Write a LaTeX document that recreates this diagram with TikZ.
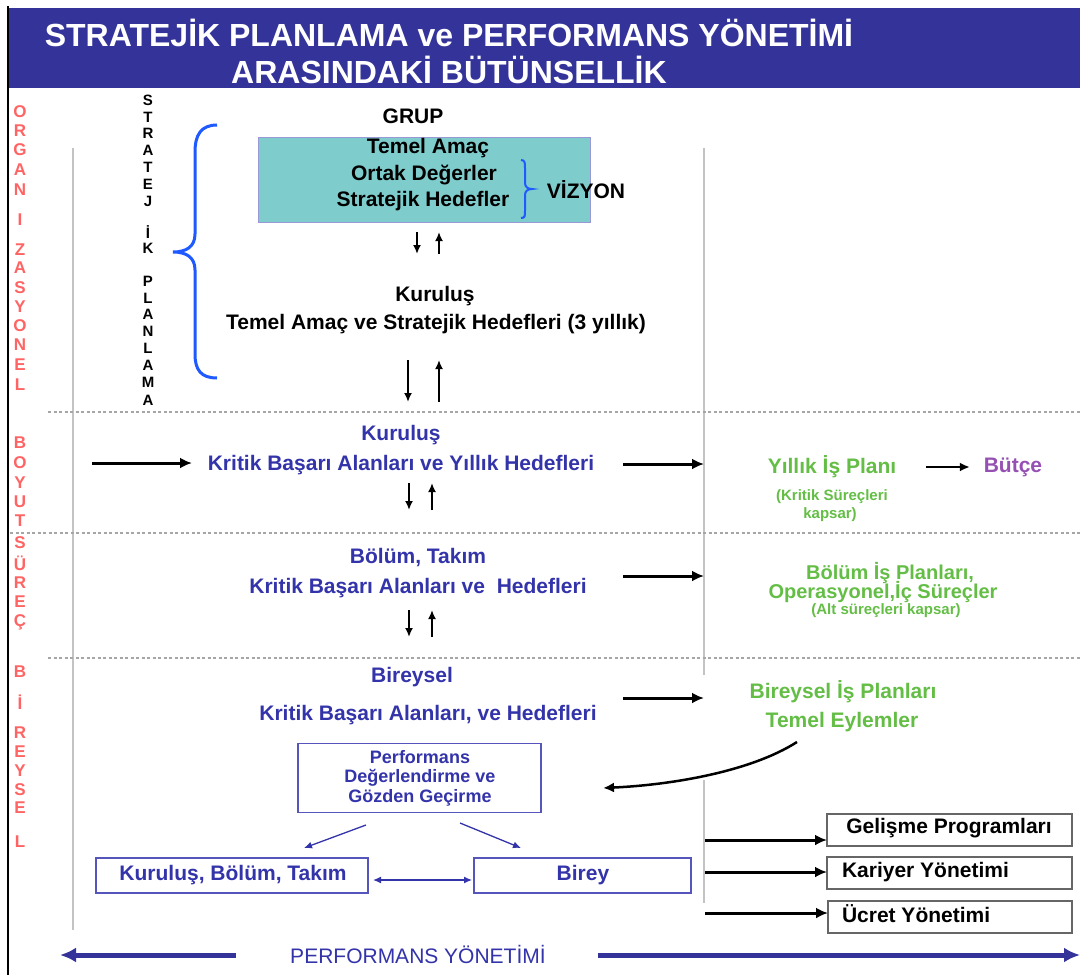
\documentclass[tikz,border=0pt]{standalone}
\usepackage{fontspec}
\setmainfont{Liberation Sans}
\usetikzlibrary{arrows.meta}
\definecolor{titleblue}{RGB}{51,51,153}
\definecolor{txtblue}{RGB}{51,51,170}
\definecolor{boxblue}{RGB}{85,85,187}
\definecolor{grn}{RGB}{100,190,70}
\definecolor{purp}{RGB}{150,80,180}
\definecolor{redl}{RGB}{255,100,100}
\definecolor{boxteal}{RGB}{127,204,204}
\definecolor{braceblue}{RGB}{30,90,255}
\definecolor{lgray}{RGB}{195,195,195}
\begin{document}
\begin{tikzpicture}[x=1pt,y=-1pt,
  every node/.style={inner sep=0pt,outer sep=0pt},
  main/.style={font=\bfseries\fontsize{21}{23}\selectfont},
  bt/.style={main,text=txtblue},
  gt/.style={main,text=grn},
  gts/.style={font=\bfseries\fontsize{15}{17}\selectfont,text=grn},
  blk/.style={main,text=black},
  ttl/.style={font=\bfseries\fontsize{32}{34}\selectfont,text=white},
  redltr/.style={font=\bfseries\fontsize{17}{17}\selectfont,text=redl},
  vltr/.style={font=\bfseries\fontsize{15}{15}\selectfont},
  perft/.style={text=txtblue,font=\bfseries\fontsize{18}{19}\selectfont},
  barrow/.style={line width=3pt,-{Latex[length=12pt,width=11pt]}},
  sarrow/.style={line width=2pt,-{Latex[length=9pt,width=8pt]}},
  blarrow/.style={line width=1.3pt,draw=txtblue,-{Latex[length=8pt,width=7pt]}},
  dotline/.style={draw=gray!70,line width=1.8pt,dash pattern=on 3pt off 2.5pt},
  vline/.style={draw=lgray,line width=2pt},
  bbox/.style={draw=boxblue,line width=1.3pt},
  rbox/.style={draw=black!60,line width=1.5pt,minimum width=245,minimum height=32},
  bigarrow/.style={draw=titleblue,line width=5pt,-{Latex[length=16pt,width=15pt]}}
]
\useasboundingbox (0,0) rectangle (1080,975);
\fill[white] (0,0) rectangle (1080,975);
% title bar
\fill[titleblue] (8,8) rectangle (1080,88);
\draw[line width=2.5pt] (8,6) -- (8,975);
\node[ttl] (ttl1) at (449,33) {STRATEJİK PLANLAMA ve PERFORMANS YÖNETİMİ};
\node[ttl] (ttl2) at (449,70) {ARASINDAKİ BÜTÜNSELLİK};
% red vertical letters
\foreach \l/\y in {O/112,R/131,G/150,A/170,N/190,I/220,Z/250,A/268,S/288,Y/307,O/326,N/345,E/365,L/385,
  B/443,O/463,Y/483,U/502,T/521,S/543,Ü/563,R/583,E/602,Ç/622,B/672,İ/702,R/733,E/752,Y/771,S/790,E/808,L/842}
  \node[redltr] (r\y) at (20,\y) {\l};
% black vertical letters
\foreach \l/\y in {S/100,T/117,R/133,A/150,T/167,E/184,J/201,İ/232,K/248,P/281,L/298,A/314,N/331,L/348,A/365,M/382,A/400}
  \node[vltr] (s\y) at (148,\y) {\l};
% gray vertical lines
\coordinate (gl1) at (73,148); \coordinate (gl2) at (73,930);
\draw[vline] (gl1) -- (gl2);
\coordinate (gr1) at (704,148); \coordinate (gr2) at (704,675);
\draw[vline] (gr1) -- (gr2);
\coordinate (gr3) at (704,780); \coordinate (gr4) at (704,903);
\draw[vline] (gr3) -- (gr4);
% dotted separators
\coordinate (d1a) at (48,412); \coordinate (d1b) at (1080,412);
\coordinate (d2a) at (10,533); \coordinate (d2b) at (1080,533);
\coordinate (d3a) at (48,658); \coordinate (d3b) at (1080,658);
\draw[dotline] (d1a) -- (d1b);
\draw[dotline] (d2a) -- (d2b);
\draw[dotline] (d3a) -- (d3b);
% big brace
\draw[braceblue,line width=3pt] (217,125) .. controls (201,125) and (195,135) .. (195,152) -- (195,234) .. controls (195,247) and (186,252) .. (173,252) .. controls (186,252) and (195,257) .. (195,270) -- (195,354) .. controls (195,370) and (201,378) .. (217,378);
% GRUP block
\node[blk] (grup) at (413,116) {GRUP};
\node[draw=boxblue!60,fill=boxteal,line width=1pt,minimum width=332,minimum height=85] (vbox) at (424,179.5) {};
\node[blk] (t1) at (428,148) {Temel Amaç};
\node[blk] (t2) at (424,175) {Ortak Değerler};
\node[blk] (t3) at (423,201) {Stratejik Hedefler};
\draw[braceblue,line width=2pt] (521,160) .. controls (525,160) and (525,163) .. (525,168) -- (525,183) .. controls (525,187) and (528,189) .. (532,189) .. controls (528,189) and (525,191) .. (525,195) -- (525,211) .. controls (525,216) and (525,218) .. (521,218);
\node[blk] (viz) at (586,190) {VİZYON};
\coordinate (a1a) at (417,232); \coordinate (a1b) at (417,254);
\coordinate (a2a) at (439,254); \coordinate (a2b) at (439,232);
\draw[sarrow] (a1a) -- (a1b);
\draw[sarrow] (a2a) -- (a2b);
\node[blk] (kur1) at (435,296) {Kuruluş};
\node[blk] (kur1b) at (436,324) {Temel Amaç ve Stratejik Hedefleri (3 yıllık)};
\coordinate (a3a) at (408,360); \coordinate (a3b) at (408,402);
\coordinate (a4a) at (439,402); \coordinate (a4b) at (439,360);
\draw[sarrow] (a3a) -- (a3b);
\draw[sarrow] (a4a) -- (a4b);
% Kuruluş level
\node[bt] (kur2) at (401,435) {Kuruluş};
\node[bt] (kba1) at (401,465) {Kritik Başarı Alanları ve Yıllık Hedefleri};
\coordinate (la) at (92,463); \coordinate (lb) at (192,463);
\draw[barrow] (la) -- (lb);
\coordinate (ra1) at (623,464); \coordinate (rb1) at (704,464);
\draw[barrow] (ra1) -- (rb1);
\coordinate (a5a) at (409,483); \coordinate (a5b) at (409,510);
\coordinate (a6a) at (432,510); \coordinate (a6b) at (432,483);
\draw[sarrow] (a5a) -- (a5b);
\draw[sarrow] (a6a) -- (a6b);
\node[gt] (yip) at (832,467) {Yıllık İş Planı};
\node[main,text=purp] (butce) at (1013,467) {Bütçe};
\draw[line width=2pt,-{Latex[length=10pt,width=9pt]}] (yip.east) ++(30,0) coordinate (yb) -- ([xshift=-14]butce.west);
\node[gts] (ks1) at (832,497) {(Kritik Süreçleri};
\node[gts] (ks2) at (830,515) {kapsar)};
% Bölüm level
\node[bt] (bol) at (418,558) {Bölüm, Takım};
\node[bt] (kba2) at (418,588) {Kritik Başarı Alanları ve\ \ Hedefleri};
\coordinate (ra2) at (623,576); \coordinate (rb2) at (704,576);
\draw[barrow] (ra2) -- (rb2);
\coordinate (a7a) at (409,610); \coordinate (a7b) at (409,637);
\coordinate (a8a) at (432,637); \coordinate (a8b) at (432,610);
\draw[sarrow] (a7a) -- (a7b);
\draw[sarrow] (a8a) -- (a8b);
\node[main,text=grn,font=\bfseries\fontsize{20}{22}\selectfont] (bip) at (890,573) {Bölüm İş Planları,};
\node[main,text=grn,font=\bfseries\fontsize{20}{22}\selectfont] (ops) at (883,592) {Operasyonel,İç Süreçler};
\node[gts] (alt) at (886,611) {(Alt süreçleri kapsar)};
% Bireysel level
\node[bt] (bir) at (412,677) {Bireysel};
\node[bt] (kba3) at (428,715) {Kritik Başarı Alanları, ve Hedefleri};
\coordinate (ra3) at (623,698); \coordinate (rb3) at (704,698);
\draw[barrow] (ra3) -- (rb3);
\node[gt] (birip) at (843,692) {Bireysel İş Planları};
\node[gt] (tem) at (842,722) {Temel Eylemler};
\coordinate (cs) at (797,742); \coordinate (ce) at (603,788);
\draw[line width=2.5pt,-{Latex[length=11pt,width=10pt]}] (cs) .. controls (750,772) and (670,785) .. (ce);
% Performans boxes
\node[bbox,minimum width=243,minimum height=69] (perf) at (419.5,778) {};
\node[perft] (p1) at (420,757) {Performans};
\node[perft] (p2) at (420,778) {Değerlendirme ve};
\node[perft] (p3) at (420,798) {Gözden Geçirme};
\node[bbox,minimum width=272,minimum height=35] (kbt) at (232,875.5) {};
\node[bt] (kbtt) at (233,875) {Kuruluş, Bölüm, Takım};
\node[bbox,minimum width=217,minimum height=35] (birey) at (582.5,875.5) {};
\node[bt] (bireyt) at (583,875) {Birey};
\coordinate (pl1) at (366,825); \coordinate (pl2) at (304,848);
\coordinate (pr1) at (460,823); \coordinate (pr2) at (521,848);
\draw[blarrow] (pl1) -- (pl2);
\draw[blarrow] (pr1) -- (pr2);
\draw[blarrow,{Latex[length=8pt,width=7pt]}-{Latex[length=8pt,width=7pt]}] ([xshift=5]kbt.east |- 0,880) -- ([xshift=-2]birey.west |- 0,880);
% right boxes
\node[rbox] (gel) at (949.5,830) {};
\node[main] (gelt) at (949,828) {Gelişme Programları};
\node[rbox] (kar) at (949.5,873) {};
\node[main,anchor=west] (kart) at (842,872) {Kariyer Yönetimi};
\node[rbox,minimum width=244] (ucr) at (950,917) {};
\node[main,anchor=west] (ucrt) at (842,914) {Ücret Yönetimi};
\coordinate (g1) at (705,840); \coordinate (g2) at (705,872); \coordinate (g3) at (705,913);
\draw[barrow] (g1) -- (gel.west |- g1);
\draw[barrow] (g2) -- (kar.west |- g2);
\draw[barrow] (g3) -- (ucr.west |- g3);
% bottom
\node[font=\fontsize{21}{23}\selectfont,text=txtblue] (pym) at (418,954) {PERFORMANS YÖNETİMİ};
\coordinate (bl1) at (236,955); \coordinate (bl2) at (60,955);
\coordinate (br1) at (598,955); \coordinate (br2) at (1080,955);
\draw[bigarrow] (bl1) -- (bl2);
\draw[bigarrow] (br1) -- (br2);
\end{tikzpicture}
\end{document}
